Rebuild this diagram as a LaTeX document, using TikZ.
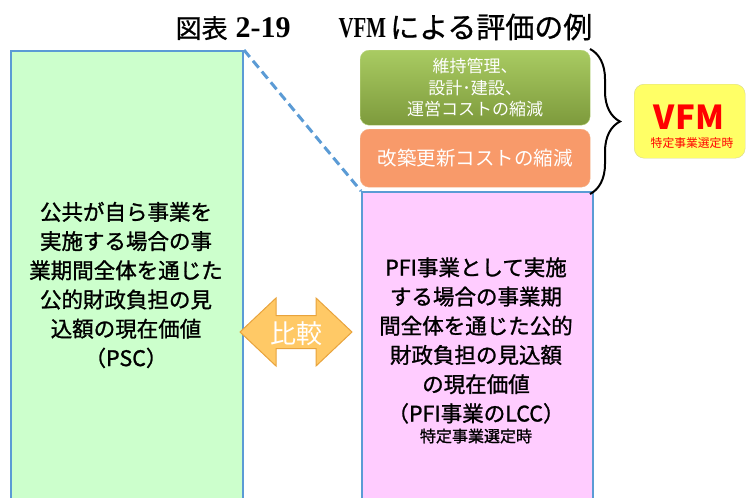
\documentclass[tikz,border=0pt]{standalone}
\usepackage{fontspec}
\setmainfont{Noto Sans CJK JP}
\newfontfamily\medfont{Noto Sans CJK JP}[FakeBold=1.2]
\newfontfamily\titlefont{Noto Sans CJK JP}[FakeBold=0.8]
\newfontfamily\titleserif{Liberation Serif}[FakeStretch=0.72]
\newfontfamily\titlenum{Liberation Serif}
\usetikzlibrary{decorations.pathreplacing,calc}
\definecolor{boxblue}{HTML}{5B9BD5}
\definecolor{lgreen}{HTML}{CCFFCC}
\definecolor{lpink}{HTML}{FFCCFF}
\definecolor{gtop}{HTML}{A9CB62}
\definecolor{gbot}{HTML}{7D9A3C}
\definecolor{orfill}{HTML}{F89A6A}
\definecolor{orline}{HTML}{F2B48C}
\definecolor{vyellow}{HTML}{FFFF66}
\definecolor{vline}{HTML}{D8D890}
\definecolor{arfill}{HTML}{FFC966}
\definecolor{arline}{HTML}{E8A33C}
\tikzset{
  bigbox/.style={draw=boxblue, line width=2pt, anchor=north west, inner sep=0pt, minimum width=232pt, minimum height=500pt},
  bigtext/.style={align=center, font=\medfont\fontsize{21.5}{29.2}\selectfont, inner sep=0pt},
  costbox/.style={rounded corners=9pt, anchor=north west, inner sep=0pt, minimum width=230pt, text=white, align=center},
}
\begin{document}
\begin{tikzpicture}[x=1pt,y=-1pt]
\useasboundingbox (0,0) rectangle (747,498);
\clip (0,0) rectangle (747,498);
\node[inner sep=0pt] (title) at (384,27) {\titlefont{\fontsize{26}{30}\selectfont 図表}\hspace{8pt}{\titlenum\bfseries\fontsize{30}{30}\selectfont 2-19}\hspace{48pt}{\titleserif\bfseries\fontsize{29}{30}\selectfont VFM}\hspace{4pt}{\fontsize{29}{30}\selectfont による評価の例}};
% big boxes
\node[bigbox, fill=lgreen] (psc) at (10,50) {};
\node[bigbox, fill=lpink, minimum width=231pt] (pfi) at (361,191) {};
\draw[boxblue, line width=3pt, dash pattern=on 9pt off 5pt] (psc.north east) -- (pfi.north west);
% cost boxes
\node[costbox, top color=gtop, bottom color=gbot, draw=gtop!80!white, minimum height=75pt,
      font=\fontsize{17}{21.5}\selectfont] (opcost) at (360,50) {維持管理、\\設計･建設、\\運営コストの縮減};
\node[costbox, fill=orfill, draw=orline, minimum height=58pt,
      font=\fontsize{19.5}{22}\selectfont] (renew) at (360,129) {改築更新コストの縮減};
% brace
\coordinate (btop) at (590,49);
\coordinate (bbot) at (590,194);
\draw[line width=2pt, decorate, decoration={brace, amplitude=30pt}] (btop) -- (bbot);
% VFM box
\node[draw=vline, fill=vyellow, rounded corners=10pt, minimum width=111pt, minimum height=74pt, anchor=north west] (vfm) at (634,84) {};
\node[text=red, font=\fontsize{33}{36}\bfseries\selectfont, inner sep=0pt] (vfmt) at (689,117) {VFM};
\node[text=red, font=\fontsize{11.8}{13}\selectfont, inner sep=0pt] (vfms) at (692,143) {特定事業選定時};
% texts in big boxes
\node[bigtext] (psct) at (126,285) {公共が自ら事業を\\実施する場合の事\\業期間全体を通じた\\公的財政負担の見\\込額の現在価値\\（PSC）};
\node[bigtext] (pfit) at (476,340.5) {PFI事業として実施\\する場合の事業期\\間全体を通じた公的\\財政負担の見込額\\の現在価値\\（PFI事業のLCC）};
\node[font=\medfont\fontsize{16}{18}\selectfont, inner sep=0pt] (pfis) at (476,436) {特定事業選定時};
% comparison arrow
\begin{scope}[shift={(296,332)}]
\filldraw[fill=arfill, draw=arline, line width=1pt, line join=miter]
  (-56,0) -- (-20,-34) -- (-20,-16.5) -- (20,-16.5) -- (20,-34) -- (56,0)
  -- (20,34) -- (20,16.5) -- (-20,16.5) -- (-20,34) -- cycle;
\end{scope}
\node[text=white, font=\fontsize{26}{28}\selectfont, inner sep=0pt] (cmp) at (296,334) {比較};
\end{tikzpicture}
\end{document}
